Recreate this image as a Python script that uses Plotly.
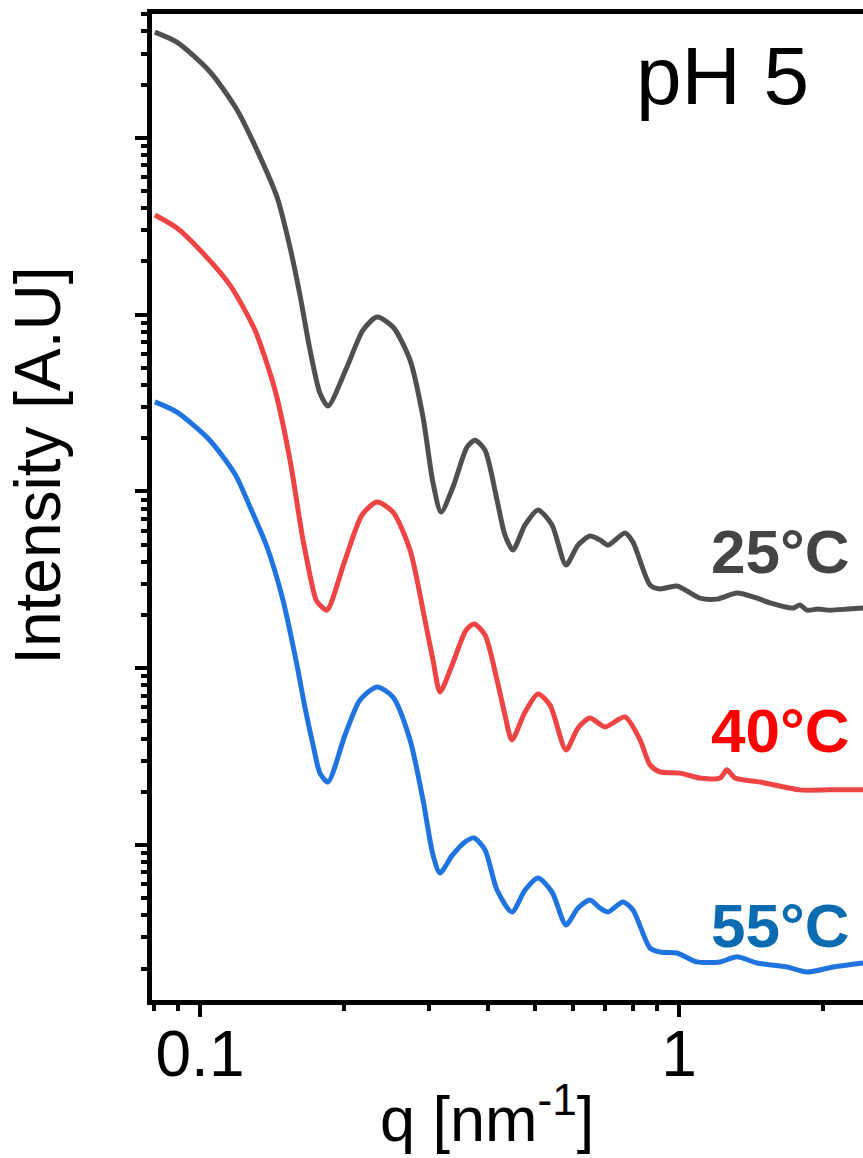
import plotly.graph_objects as go

# ---- data (q in nm^-1, intensity in arbitrary units) ----
q_25 = [0.0805, 0.0895, 0.105, 0.1195, 0.1315, 0.1448, 0.1541, 0.1617, 0.1697, 0.178, 0.185,
        0.2027, 0.2189, 0.2342, 0.2529, 0.2745, 0.2921, 0.3065, 0.3186, 0.3374, 0.361, 0.3751,
        0.3936, 0.4169, 0.4331, 0.45, 0.4771, 0.5077, 0.5431, 0.5809, 0.6153, 0.6518, 0.6841,
        0.7109, 0.7711, 0.8015, 0.8699, 0.9128, 0.99, 1.106, 1.2, 1.321, 1.455, 1.549, 1.73,
        1.789, 1.85, 1.95, 2.066, 2.25, 2.422]
I_25 = [3.97e4, 3.48e4, 2.36e4, 1.44e4, 8.53e3, 4.63e3, 2.41e3, 1.29e3, 631, 360, 304,
        506, 818, 969, 851, 554, 264, 112, 76.4, 106, 178, 195,
        171, 89.4, 56.7, 46.6, 64.6, 78.5, 64.6, 38.4, 49.7, 55.9, 53.1,
        49.7, 58.2, 51.7, 29.6, 28.1, 29.2, 24.9, 24.6, 26.6, 24.9, 23.4, 21.9,
        22.8, 21.3, 21.6, 21.3, 21.6, 21.9]

q_40 = [0.0805, 0.0895, 0.1, 0.1155, 0.1302, 0.1434, 0.1541, 0.1641, 0.1747, 0.178, 0.1841,
        0.2008, 0.2179, 0.2342, 0.2529, 0.2745, 0.2949, 0.3065, 0.317, 0.3358, 0.3592, 0.3733,
        0.3936, 0.4169, 0.4331, 0.4479, 0.4771, 0.5077, 0.5379, 0.5809, 0.6153, 0.6518, 0.7007,
        0.7711, 0.829, 0.8699, 0.9128, 1.005, 1.106, 1.218, 1.259, 1.309, 1.476, 1.789, 2.066, 2.422]
I_40 = [3.66e3, 3.09e3, 2.32e3, 1.47e3, 818, 375, 151, 53.1, 24.3, 22.8, 21.3,
        40.9, 73.6, 87.1, 76.4, 46.6, 18.7, 11.1, 7.34, 10.4, 16.4, 17.8,
        15.4, 8.58, 5.44, 3.93, 5.65, 7.15, 6.19, 3.45, 4.59, 5.23, 4.65,
        5.30, 3.93, 2.84, 2.59, 2.55, 2.39, 2.39, 2.66, 2.39, 2.27, 2.05, 2.05, 2.05]

q_55 = [0.0805, 0.0895, 0.1048, 0.1186, 0.1272, 0.138, 0.149, 0.1594, 0.1657, 0.1722,
        0.178, 0.185, 0.2008, 0.2158, 0.2342, 0.2529, 0.2745, 0.2921, 0.3065, 0.317, 0.3358,
        0.3575, 0.3733, 0.3936, 0.4169, 0.4479, 0.4771, 0.5077, 0.5431, 0.5809, 0.6153, 0.6518,
        0.6841, 0.7109, 0.7637, 0.8015, 0.8699, 0.9128, 0.99, 1.09, 1.218, 1.321, 1.455, 1.681,
        1.85, 2.097, 2.422]
I_55 = [321, 281, 195, 124, 81.6, 48.5, 24.3, 10.4, 5.96, 3.68,
        2.55, 2.27, 4.19, 6.61, 7.83, 6.87, 3.93, 1.80, 0.878, 0.695, 0.870,
        1.04, 1.096, 0.937, 0.556, 0.418, 0.556, 0.651, 0.542, 0.353, 0.440, 0.489,
        0.440, 0.418, 0.476, 0.429, 0.261, 0.248, 0.245, 0.218, 0.218, 0.233, 0.215, 0.204,
        0.191, 0.204, 0.215]

series_names = ["25°C", "40°C", "55°C"]
line_colors = ["#4f4f4f", "#ef4444", "#1f74e0"]
label_colors = ["#444444", "#ff0000", "#0b6bb0"]

FONT = "Liberation Sans, Arial, sans-serif"

fig = go.Figure()
for q, I, name, col in zip([q_25, q_40, q_55], [I_25, I_40, I_55], series_names, line_colors):
    fig.add_trace(go.Scatter(x=q, y=I, mode="lines", name=name,
                             line=dict(color=col, width=5, shape="spline", smoothing=0.7)))

fig.update_layout(
    width=863, height=1158,
    margin=dict(l=152, r=0, t=14, b=158),
    paper_bgcolor="white", plot_bgcolor="white",
    showlegend=False,
    font=dict(family=FONT, size=64, color="black"),
)

fig.update_xaxes(
    type="log", range=[-1.1002, 0.3841],
    tickmode="array", tickvals=[0.1, 1], ticktext=["0.1", "1"],
    ticks="outside", ticklen=12, tickwidth=4, tickcolor="black",
    ticklabelstandoff=-18,
    minor=dict(ticks="outside", ticklen=6, tickwidth=4, tickcolor="black",
               tickvals=[0.08, 0.09, 0.2, 0.3, 0.4, 0.5, 0.6, 0.7, 0.8, 0.9, 2], showgrid=False),
    showline=True, linewidth=5, linecolor="black", mirror=True,
    showgrid=False, zeroline=False,
    tickfont=dict(family=FONT, size=64, color="black"),
)

ymaj = [1, 10, 100, 1000, 10000]
ymin = [m * d for d in [0.1, 1, 10, 100, 1000, 10000] for m in range(2, 10)]
fig.update_yaxes(
    type="log", range=[-0.877, 4.701],
    tickmode="array", tickvals=ymaj, showticklabels=False,
    ticks="outside", ticklen=12, tickwidth=4, tickcolor="black",
    minor=dict(ticks="outside", ticklen=6, tickwidth=4, tickcolor="black",
               tickvals=ymin, showgrid=False),
    showline=True, linewidth=5, linecolor="black", mirror=False,
    showgrid=False, zeroline=False,
)

annos = [
    dict(text="pH 5", x=0.802, y=0.9375, font=dict(size=82, color="black", family=FONT)),
    dict(text="q [nm<sup>-1</sup>]", x=(487 - 152) / 711, y=(1000 - 1114) / 986,
         font=dict(size=63, color="black", family=FONT)),
    dict(text="Intensity [A.U]", x=-0.1606, y=(1000 - 466) / 986, textangle=-90,
         font=dict(size=64, color="black", family=FONT)),
]
label_y = [0.455, 0.273, 0.076]
for name, col, yy in zip(series_names, label_colors, label_y):
    annos.append(dict(text="<b>" + name + "</b>", x=0.985, y=yy, xanchor="right",
                      font=dict(size=62, color=col, family=FONT)))
for a in annos:
    a.setdefault("xanchor", "center")
    fig.add_annotation(xref="paper", yref="paper", showarrow=False, yanchor="middle", **a)

fig.write_html("out.html")
